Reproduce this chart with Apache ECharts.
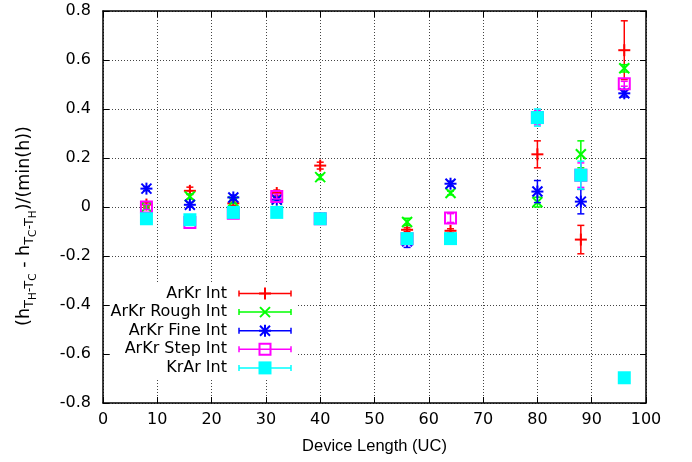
<!DOCTYPE html>
<html>
<head>
<meta charset="utf-8">
<script src="https://cdn.jsdelivr.net/npm/echarts@6/dist/echarts.min.js"></script>
<style>
  html, body { margin: 0; padding: 0; background: #fff; }
  #main { width: 692px; height: 462px; }
</style>
</head>
<body>
<div id="main"></div>
<script>
// device lengths (UC)
var xValues = [8, 16, 24, 32, 40, 56, 64, 80, 88, 96];

// values + error bars per data set
var arkrInt      = [0.01, 0.066, 0.015, 0.057, 0.169, -0.093, -0.097, 0.215, -0.133, 0.64];
var arkrIntErr   = [0.01, 0.015, 0.01, 0.012, 0.014, 0.008, 0.008, 0.055, 0.058, 0.12];
var arkrRough    = [0.0, 0.043, 0.023, 0.03, 0.122, -0.061, 0.057, 0.02, 0.215, 0.566];
var arkrRoughErr = [0.008, 0.01, 0.008, 0.008, 0.01, 0.015, 0.008, 0.02, 0.055, 0.015];
var arkrFine     = [0.075, 0.009, 0.039, 0.03, -0.045, -0.14, 0.095, 0.063, 0.022, 0.464];
var arkrFineErr  = [0.008, 0.01, 0.01, 0.01, 0.01, 0.025, 0.01, 0.045, 0.05, 0.015];
var arkrStep     = [0.0, -0.063, -0.025, 0.043, -0.048, -0.13, -0.045, 0.365, 0.13, 0.503];
var arkrStepErr  = [0.01, 0.01, 0.01, 0.01, 0.01, 0.01, 0.018, 0.03, 0.05, 0.01];
var krarInt      = [-0.048, -0.052, -0.022, -0.022, -0.048, -0.129, -0.129, 0.365, 0.13, -0.697];
var krarIntErr   = [0.008, 0.008, 0.008, 0.008, 0.008, 0.008, 0.008, 0.035, 0.057, 0.008];

var seriesNames = ['ArKr Int', 'ArKr Rough Int', 'ArKr Fine Int', 'ArKr Step Int', 'KrAr Int'];
var seriesVals = [arkrInt, arkrRough, arkrFine, arkrStep, krarInt];
var seriesErrs = [arkrIntErr, arkrRoughErr, arkrFineErr, arkrStepErr, krarIntErr];
var colors = ['#ff0000', '#00ff00', '#0000ff', '#ff00ff', '#00ffff'];
var markers = ['plus', 'cross', 'star', 'box', 'fbox'];

var FONT = '"DejaVu Sans", Arial, sans-serif';
var FONT2 = '"Liberation Sans", Arial, sans-serif';

function seg(x1, y1, x2, y2, color, w) {
    return {
        type: 'line',
        shape: { x1: x1, y1: y1, x2: x2, y2: y2 },
        style: { stroke: color, lineWidth: w }
    };
}

// marker glyph (gnuplot style point types)
function markerShapes(kind, cx, cy, color) {
    var out = [];
    var r = 6, d = 5;
    if (kind === 'plus' || kind === 'star') {
        out.push(seg(cx - r, cy, cx + r, cy, color, 2));
        out.push(seg(cx, cy - r, cx, cy + r, color, 2));
    }
    if (kind === 'cross' || kind === 'star') {
        out.push(seg(cx - d, cy - d, cx + d, cy + d, color, 2));
        out.push(seg(cx - d, cy + d, cx + d, cy - d, color, 2));
    }
    if (kind === 'box') {
        out.push({
            type: 'rect',
            shape: { x: cx - 5.5, y: cy - 5.5, width: 11, height: 11 },
            style: { fill: null, stroke: color, lineWidth: 2 }
        });
    }
    if (kind === 'fbox') {
        out.push({
            type: 'rect',
            shape: { x: cx - 6.5, y: cy - 6.5, width: 13, height: 13 },
            style: { fill: color, stroke: null }
        });
    }
    return out;
}

function makeRender(idx) {
    return function (params, api) {
        var x = api.value(0), y = api.value(1), e = api.value(2);
        var c = api.coord([x, y]);
        var top = api.coord([x, y + e]);
        var bot = api.coord([x, y - e]);
        var col = colors[idx];
        var kids = [
            seg(c[0], top[1], c[0], bot[1], col, 1.5),
            seg(c[0] - 3.5, top[1], c[0] + 3.5, top[1], col, 1.5),
            seg(c[0] - 3.5, bot[1], c[0] + 3.5, bot[1], col, 1.5)
        ];
        return { type: 'group', children: kids.concat(markerShapes(markers[idx], c[0], c[1], col)) };
    };
}

var series = seriesNames.map(function (name, i) {
    return {
        name: name,
        type: 'custom',
        xAxisIndex: 0,
        yAxisIndex: 0,
        clip: false,
        z: 3 + i,
        renderItem: makeRender(i),
        data: xValues.map(function (xv, k) { return [xv, seriesVals[i][k], seriesErrs[i][k]]; })
    };
});

// key (legend) drawn like gnuplot: text right aligned, sample with error bar
var legendEls = [{
    type: 'rect', left: 110, top: 283, z: 50,
    shape: { width: 188, height: 95 },
    style: { fill: '#fff' }
}];
seriesNames.forEach(function (name, i) {
    var y = 293.5 + i * 18.6;
    var col = colors[i];
    legendEls.push({
        type: 'text', z: 51,
        x: 227, y: y,
        style: { text: name, fill: '#000', font: '16px ' + FONT, align: 'right', verticalAlign: 'middle' }
    });
    var parts = [
        seg(239, y, 291, y, col, 1.5),
        seg(239, y - 3, 239, y + 3, col, 1.5),
        seg(291, y - 3, 291, y + 3, col, 1.5)
    ].concat(markerShapes(markers[i], 265, y, col));
    parts.forEach(function (p) { p.z = 52; legendEls.push(p); });
});

var axisCommon = {
    axisLine: { show: true, onZero: false, lineStyle: { color: '#000', width: 1.5 } },
    axisTick: { show: true, inside: true, length: 6, lineStyle: { color: '#000', width: 1 } }
};

var dom = document.getElementById('main');
var myChart = echarts.init(dom, null, { renderer: 'canvas' });

var option = {
    animation: false,
    backgroundColor: '#fff',
    grid: { left: 103, right: 46, top: 11, bottom: 59 },
    xAxis: [
        Object.assign({
            type: 'value', min: 0, max: 100, interval: 10, position: 'bottom',
            name: 'Device Length (UC)', nameLocation: 'middle', nameGap: 35,
            nameTextStyle: { fontFamily: FONT2, fontSize: 16.5, color: '#000' },
            axisLabel: { fontFamily: FONT, fontSize: 16, color: '#000', margin: 9 },
            splitLine: { show: true, lineStyle: { color: '#444', width: 1, type: [1, 2] } }
        }, axisCommon),
        Object.assign({
            type: 'value', min: 0, max: 100, interval: 10, position: 'top',
            axisLabel: { show: false }, splitLine: { show: false }
        }, axisCommon)
    ],
    yAxis: [
        Object.assign({
            type: 'value', min: -0.8, max: 0.8, interval: 0.2, position: 'left',
            name: '{m|(h}{s|T}{ss|H}{s|-T}{ss|C}{m| - h}{s|T}{ss|C}{s|-T}{ss|H}{m|)/(min(h))}',
            nameLocation: 'middle', nameGap: 64,
            nameTextStyle: {
                fontFamily: FONT, fontSize: 17.5, color: '#000',
                padding: [0, 38, 0, 0],
                rich: {
                    m: { fontFamily: FONT, fontSize: 17.5, color: '#000', lineHeight: 19, padding: [0, 0, 6, 0], verticalAlign: 'bottom' },
                    s: { fontFamily: FONT, fontSize: 13, color: '#000', lineHeight: 13, padding: [0, 0, 3, 0], verticalAlign: 'bottom' },
                    ss: { fontFamily: FONT, fontSize: 10.5, color: '#000', lineHeight: 10, verticalAlign: 'bottom' }
                }
            },
            axisLabel: {
                fontFamily: FONT, fontSize: 16, color: '#000', margin: 12,
                formatter: function (v) { return String(+v.toFixed(1)); }
            },
            splitLine: { show: true, lineStyle: { color: '#444', width: 1, type: [1, 2] } }
        }, axisCommon),
        Object.assign({
            type: 'value', min: -0.8, max: 0.8, interval: 0.2, position: 'right',
            axisLabel: { show: false }, splitLine: { show: false }
        }, axisCommon)
    ],
    graphic: legendEls,
    series: series
};

myChart.setOption(option);
window.addEventListener('resize', myChart.resize);
</script>
</body>
</html>
